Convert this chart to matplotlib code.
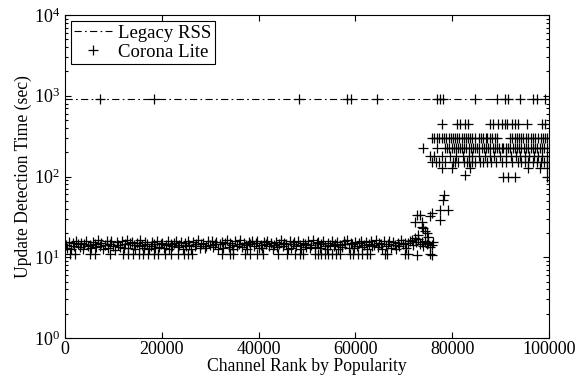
import matplotlib
matplotlib.use("Agg")
import matplotlib.pyplot as plt
from matplotlib.ticker import LogLocator, NullFormatter

plt.rcParams['font.family'] = ['Liberation Serif', 'DejaVu Serif']
plt.rcParams['mathtext.fontset'] = 'custom'
plt.rcParams['mathtext.rm'] = 'Liberation Serif'
plt.rcParams['mathtext.it'] = 'Liberation Serif:italic'

# ---------------- data ----------------
legacy_x = [0, 100000]
legacy_y = [900, 900]

# main band of Corona Lite (ranks in thousands)
band_x = [0.2, 0.5, 0.9, 1.2, 1.6, 1.9, 2.3, 2.6, 3.0, 3.3,
          3.7, 4.0, 4.4, 4.7, 5.1, 5.4, 5.8, 6.1, 6.5, 6.8,
          7.2, 7.5, 7.9, 8.2, 8.6, 8.9, 9.3, 9.6, 10.0, 10.3,
          10.7, 11.0, 11.4, 11.7, 12.1, 12.4, 12.8, 13.1, 13.5, 13.8,
          14.2, 14.5, 14.9, 15.2, 15.6, 15.9, 16.3, 16.6, 17.0, 17.3,
          17.7, 18.0, 18.4, 18.7, 19.1, 19.4, 19.8, 20.1, 20.5, 20.8,
          21.2, 21.5, 21.9, 22.2, 22.6, 22.9, 23.3, 23.6, 24.0, 24.3,
          24.7, 25.0, 25.4, 25.7, 26.1, 26.4, 26.8, 27.1, 27.5, 27.8,
          28.2, 28.5, 28.9, 29.2, 29.6, 29.9, 30.3, 30.6, 31.0, 31.3,
          31.7, 32.0, 32.4, 32.7, 33.1, 33.4, 33.8, 34.1, 34.5, 34.8,
          35.2, 35.5, 35.9, 36.2, 36.6, 36.9, 37.3, 37.6, 38.0, 38.3,
          38.7, 39.0, 39.4, 39.7, 40.1, 40.4, 40.8, 41.1, 41.5, 41.8,
          42.2, 42.5, 42.9, 43.2, 43.6, 43.9, 44.3, 44.6, 45.0, 45.3,
          45.7, 46.0, 46.4, 46.7, 47.1, 47.4, 47.8, 48.1, 48.5, 48.8,
          49.2, 49.5, 49.9, 50.2, 50.6, 50.9, 51.3, 51.6, 52.0, 52.3,
          52.7, 53.0, 53.4, 53.7, 54.1, 54.4, 54.8, 55.1, 55.5, 55.8,
          56.2, 56.5, 56.9, 57.2, 57.6, 57.9, 58.3, 58.6, 59.0, 59.3,
          59.7, 60.0, 60.4, 60.7, 61.1, 61.4, 61.8, 62.1, 62.5, 62.8,
          63.2, 63.5, 63.9, 64.2, 64.6, 64.9, 65.3, 65.6, 66.0, 66.3,
          66.7, 67.0, 67.4, 67.7, 68.1, 68.4, 68.8, 69.1, 69.5, 69.8,
          70.2, 70.5, 70.9, 71.2, 71.6, 71.9, 72.3, 72.6, 73.0, 73.3,
          73.7, 74.0, 74.4, 74.7, 75.1, 75.4, 75.8, 76.1]
band_y = [14.2, 13.1, 15.6, 12.8, 14.9, 13.7, 16.1, 14.4, 13.3, 15.2,
          12.6, 14.7, 15.9, 13.9, 14.1, 12.9, 15.4, 14.6, 13.5, 16.3,
          13.8, 15.1, 12.7, 14.3, 15.7, 13.2, 14.8, 16.0, 13.6, 12.4,
          15.3, 14.0, 13.4, 15.8, 12.9, 14.5, 16.2, 13.0, 14.9, 15.5,
          14.1, 12.8, 15.0, 13.6, 16.4, 14.3, 13.2, 15.6, 14.7, 12.6,
          13.9, 15.3, 14.4, 12.9, 16.0, 13.5, 14.8, 15.2, 13.1, 14.2,
          15.7, 12.7, 14.6, 13.8, 15.1, 16.1, 13.3, 14.0, 15.5, 12.5,
          14.9, 13.6, 15.9, 14.3, 12.8, 15.4, 13.9, 14.7, 16.3, 13.2,
          14.5, 15.0, 12.9, 13.7, 15.8, 14.1, 16.0, 13.4, 14.8, 15.3,
          12.6, 14.4, 15.6, 13.0, 14.9, 16.2, 13.5, 15.1, 14.2, 12.8,
          15.7, 13.8, 14.6, 16.4, 13.3, 15.0, 14.0, 12.7, 15.4, 14.5,
          16.1, 13.6, 14.9, 15.8, 13.1, 14.3, 12.9, 15.5, 14.7, 16.0,
          13.9, 15.2, 12.6, 14.1, 15.6, 13.4, 14.8, 16.3, 13.7, 15.0,
          14.4, 12.8, 15.9, 13.2, 14.6, 15.3, 13.8, 16.1, 14.0, 12.7,
          15.1, 14.5, 13.5, 15.7, 12.9, 14.2, 16.2, 13.3, 14.9, 15.4,
          13.0, 14.7, 15.8, 13.6, 12.6, 15.2, 14.3, 16.0, 13.9, 14.8,
          15.5, 12.8, 14.1, 13.4, 15.9, 14.6, 16.3, 13.1, 15.0, 14.4,
          12.9, 15.6, 13.7, 14.9, 16.1, 13.3, 14.2, 15.3, 12.7, 14.7,
          15.8, 13.8, 14.0, 16.2, 13.5, 15.1, 14.5, 12.6, 15.7, 13.9,
          14.8, 16.0, 13.2, 15.4, 14.3, 12.8, 15.0, 13.6, 16.4, 14.6,
          15.2, 13.0, 14.9, 15.9, 16.5, 14.1, 17.2, 15.3, 16.8, 14.4,
          15.6, 13.8, 16.0, 14.7, 15.1, 13.5, 14.2, 15.4]

# lower row of the band (~11 s)
low_x = [1000, 2100, 5200, 6200, 9300, 12000, 13100, 14100, 15200, 16200,
         17200, 18300, 19300, 20700, 22000, 23400, 24500, 25500, 26200, 32400,
         34100, 34800, 37200, 38200, 39600, 41000, 44100, 45800, 47500, 48600,
         49200, 51700, 52300, 53000, 53700, 54400, 55100, 56100, 56800, 58900,
         59600, 60600, 61300, 62300, 63000, 66100, 66500, 70300, 70900, 72700,
         75400, 75800]
low_y = [11.0, 10.9, 11.1, 11.0, 10.9, 11.1, 11.0, 11.0, 10.9, 11.1,
         11.0, 10.9, 11.1, 11.0, 11.0, 10.9, 11.1, 11.0, 10.9, 11.0,
         11.1, 11.0, 10.9, 11.0, 11.1, 11.0, 10.9, 11.0, 11.1, 11.0,
         10.9, 11.0, 11.1, 11.0, 10.9, 11.0, 11.1, 11.0, 10.9, 11.0,
         11.1, 11.0, 10.9, 11.0, 11.1, 11.0, 10.9, 11.0, 11.1, 10.8,
         11.0, 10.8]

# transition region
trans_x = [72300, 72700, 73000, 73350, 73700, 73700, 74030, 74380, 74720,
           75000, 75410, 75760, 77480, 77480, 78170, 78300, 79200]
trans_y = [27.5, 33, 19, 33, 27.5, 24, 23, 21, 20,
           18, 32, 35, 39, 29, 51, 59, 39]

# upper cluster, discrete levels
levels = [450, 300, 225, 180, 150, 128, 105, 100]
lvl_x = [
    [77800, 80900, 81600, 82600, 83300, 87800, 88500, 89500, 90200, 90900,
     91300, 92300, 93000, 93700, 95400, 98500, 99200],
    [75800, 76300, 76800, 77300, 77900, 78400, 78800, 79300, 79700, 80200,
     80600, 81100, 81500, 82000, 82400, 82800, 83300, 83700, 84200, 84700,
     85500, 86000, 86400, 86900, 87300, 87800, 88300, 88800, 89200, 91900,
     92400, 92900, 93300, 93800, 94300, 94700, 95200, 95700, 96200, 96700,
     97200, 97700, 98300, 98800, 99200, 99600],
    [74000, 76800, 78500, 79000, 79400, 79900, 80300, 80700, 81200, 81600,
     82000, 82500, 82900, 83400, 83800, 84300, 84700, 85200, 85600, 86100,
     86500, 87000, 87400, 87900, 88400, 88800, 89300, 89700, 90200, 90600,
     91100, 91500, 92000, 92500, 93000, 93400, 93900, 94300, 94800, 95300,
     95700, 96200, 96700, 97100, 97600, 98100, 98500, 99000, 99500],
    [75400, 76200, 78000, 79500, 80800, 82200, 83500, 84200, 85600, 86800,
     87900, 88700, 89800, 91200, 92100, 93200, 94100, 95000, 95800, 96900,
     97800, 98600, 99500],
    [75800, 76700, 77300, 78600, 80100, 80600, 81300, 82400, 83000, 83500,
     84100, 84800, 85700, 86300, 87200, 88100, 89000, 90200, 91100, 92300,
     93500, 94200, 95000, 95600, 96800, 97600, 98300, 99000, 99600],
    [77800, 79900, 83700, 95700, 98100, 99500],
    [82600],
    [90600, 91600, 93000, 99500],
]

# Corona Lite points coinciding with the legacy level
top_x = [7200, 18400, 48400, 58200, 59200, 64500, 76800, 77500, 78200, 84800,
         89200, 90900, 91600, 94000, 96800, 97500, 99200]
top_y = [900] * len(top_x)

xticks = [0, 20000, 40000, 60000, 80000, 100000]

# ---------------- plot ----------------
fig = plt.figure(figsize=(5.87, 3.76), dpi=100)
ax = fig.add_axes([0.1107, 0.101, 0.8245, 0.859])

cx, cy = [], []
cx += [v * 1000 for v in band_x]; cy += band_y
cx += low_x; cy += low_y
cx += trans_x; cy += trans_y
for lv, xs in zip(levels, lvl_x):
    cx += xs; cy += [lv] * len(xs)
cx += top_x; cy += top_y

ax.plot(legacy_x, legacy_y, color='black', lw=0.8,
        linestyle=(0, (6.5, 3, 1.5, 3)), label='Legacy RSS')
ax.plot(cx, cy, linestyle='none', marker='+', markersize=7,
        markeredgewidth=0.9, color='black', label='Corona Lite')

ax.set_yscale('log')
ax.set_ylim(1, 1e4)
ax.set_xlim(0, 100000)
ax.set_xticks(xticks)
ax.set_xticklabels([str(t) for t in xticks])
ax.yaxis.set_major_locator(LogLocator(base=10, numticks=10))
ax.yaxis.set_minor_locator(LogLocator(base=10, subs=range(2, 10), numticks=10))
ax.yaxis.set_minor_formatter(NullFormatter())

ax.tick_params(which='both', direction='in', top=True, right=True,
               labelsize=13, width=0.8)
ax.tick_params(which='major', length=4)
ax.tick_params(which='minor', length=2.2)
ax.tick_params(axis='x', pad=2)
for s in ax.spines.values():
    s.set_linewidth(0.8)

ax.set_xlabel('Channel Rank by Popularity', fontsize=12.7, labelpad=0)
ax.set_ylabel('Update Detection Time (sec)', fontsize=12.7, labelpad=1)

leg = ax.legend(loc='upper left', fontsize=13.5, frameon=True, fancybox=False,
                edgecolor='black', framealpha=1, borderpad=0.2,
                handlelength=2.0, handletextpad=0.35, labelspacing=0.1,
                borderaxespad=0.3)
leg.get_frame().set_linewidth(0.8)

fig.savefig('out.png', dpi=100)
